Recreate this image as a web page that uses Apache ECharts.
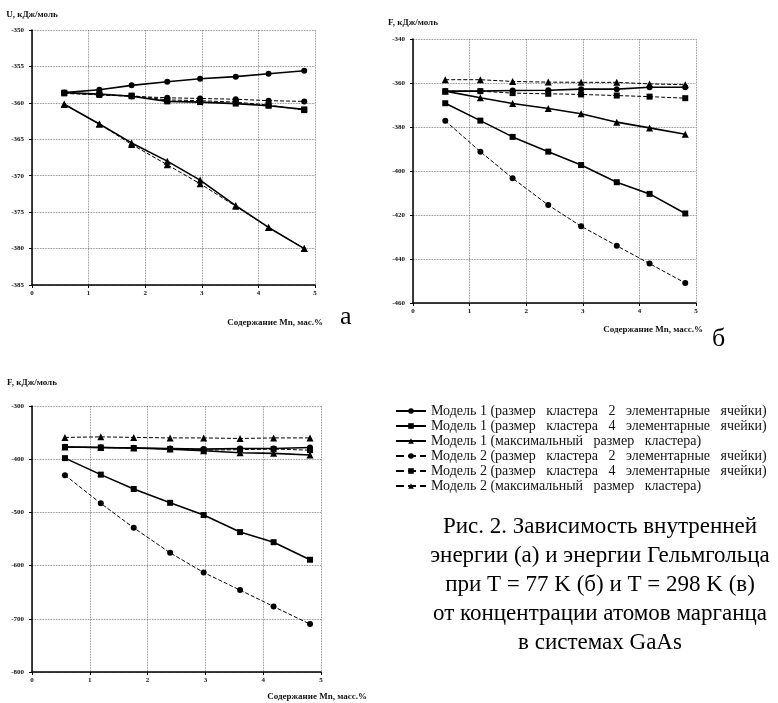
<!DOCTYPE html>
<html>
<head>
<meta charset="utf-8">
<script src="https://cdn.jsdelivr.net/npm/echarts@6/dist/echarts.min.js"></script>
<style>
html, body { margin: 0; padding: 0; background: #fff; }
#chart { width: 778px; height: 703px; }
</style>
</head>
<body>
<div id="chart"></div>
<script>
// содержание Mn, масс.%
const mn = [0.57, 1.19, 1.76, 2.39, 2.97, 3.6, 4.18, 4.81];

const seriesNames = [
    'Модель 1 (размер   кластера   2   элементарные   ячейки)',
    'Модель 1 (размер   кластера   4   элементарные   ячейки)',
    'Модель 1 (максимальный   размер   кластера)',
    'Модель 2 (размер   кластера   2   элементарные   ячейки)',
    'Модель 2 (размер   кластера   4   элементарные   ячейки)',
    'Модель 2 (максимальный   размер   кластера)'
];

// (а) U, кДж/моль
const aM1c2 = [-358.6, -358.2, -357.6, -357.1, -356.7, -356.4, -356.0, -355.6];
const aM1c4 = [-358.6, -358.8, -359.1, -359.8, -359.9, -360.1, -360.4, -360.9];
const aM1max = [-360.2, -362.9, -365.5, -368.0, -370.6, -374.1, -377.1, -380.0];
const aM2c2 = [-358.6, -358.9, -359.1, -359.3, -359.4, -359.5, -359.7, -359.8];
const aM2c4 = [-358.7, -358.9, -359.0, -359.6, -359.7, -359.9, -360.3, -361.0];
const aM2max = [-360.2, -362.9, -365.7, -368.5, -371.1, -374.2, -377.1, -380.0];

// (б) F при 77 K, кДж/моль
const bM1c2 = [-363.7, -363.7, -363.4, -363.3, -362.8, -362.8, -361.9, -361.9];
const bM1c4 = [-369.2, -377.1, -384.5, -391.2, -397.3, -405.1, -410.4, -419.3];
const bM1max = [-363.7, -366.7, -369.3, -371.6, -374.0, -377.8, -380.4, -383.3];
const bM2c2 = [-377.2, -391.2, -403.3, -415.5, -425.1, -434.0, -442.1, -450.9];
const bM2c4 = [-363.7, -363.7, -364.6, -364.9, -365.2, -365.7, -366.2, -366.9];
const bM2max = [-358.5, -358.5, -359.3, -359.6, -359.7, -359.7, -360.4, -360.8];

// (в) F при 298 K, кДж/моль
const vM1c2 = [-377, -378, -379, -380, -381, -380, -380, -378];
const vM1c4 = [-398, -429, -456, -482, -505, -537, -556, -589];
const vM1max = [-377, -378, -379, -381, -384, -388, -389, -392];
const vM2c2 = [-430, -483, -529, -576, -613, -646, -677, -710];
const vM2c4 = [-377, -378, -379, -381, -383, -382, -381, -383];
const vM2max = [-359, -358, -359, -360, -360, -361, -360, -360];

const panels = [
    [aM1c2, aM1c4, aM1max, aM2c2, aM2c4, aM2max],
    [bM1c2, bM1c4, bM1max, bM2c2, bM2c4, bM2max],
    [vM1c2, vM1c4, vM1max, vM2c2, vM2c4, vM2max]
];

const symbols = ['circle', 'rect', 'triangle', 'circle', 'rect', 'triangle'];
const symbolSizes = [6, 6, 7, 6, 6, 7];
const lineTypes = ['solid', 'solid', 'solid', 'dashed', 'dashed', 'dashed'];
const lineWidths = [1.6, 1.6, 1.6, 1, 1, 1];

const axisFont = {
    fontFamily: 'Liberation Serif',
    fontWeight: 'bold',
    fontSize: 7,
    color: '#111'
};

function makeX(gridIndex, name, nameGap, namePad) {
    return {
        type: 'value',
        gridIndex: gridIndex,
        min: 0,
        max: 5,
        interval: 1,
        name: name,
        nameLocation: 'end',
        nameGap: nameGap,
        nameTextStyle: {
            fontFamily: 'Liberation Serif',
            fontWeight: 'bold',
            fontSize: 9,
            color: '#111',
            align: 'right',
            verticalAlign: 'top',
            padding: [namePad, 0, 0, 0]
        },
        axisLine: { lineStyle: { color: '#000', width: 1.5 } },
        axisTick: { show: true, length: 3, lineStyle: { color: '#000' } },
        axisLabel: Object.assign({ margin: 5 }, axisFont),
        splitLine: { show: true, lineStyle: { color: '#666', type: 'dotted', width: 0.8 } }
    };
}

function makeY(gridIndex, min, max, step, name, nameGap) {
    return {
        type: 'value',
        gridIndex: gridIndex,
        min: min,
        max: max,
        interval: step,
        name: name,
        nameLocation: 'end',
        nameGap: nameGap,
        nameTextStyle: {
            fontFamily: 'Liberation Serif',
            fontWeight: 'bold',
            fontSize: 9,
            color: '#111'
        },
        axisLine: { show: true, lineStyle: { color: '#000', width: 1.5 } },
        axisTick: { show: true, length: 3, lineStyle: { color: '#000' } },
        axisLabel: Object.assign({ margin: 8 }, axisFont),
        splitLine: { show: true, lineStyle: { color: '#666', type: 'dotted', width: 0.8 } }
    };
}

let series = [];
panels.forEach(function (panel, p) {
    panel.forEach(function (vals, i) {
        series.push({
            name: seriesNames[i],
            type: 'line',
            xAxisIndex: p,
            yAxisIndex: p,
            data: mn.map(function (x, k) { return [x, vals[k]]; }),
            symbol: symbols[i],
            symbolSize: symbolSizes[i],
            showAllSymbol: true,
            itemStyle: { color: '#000' },
            lineStyle: { color: '#000', width: lineWidths[i], type: lineTypes[i] },
            animation: false
        });
    });
});

let chart = echarts.init(document.getElementById('chart'));
let option = {
    backgroundColor: '#fff',
    animation: false,
    grid: [
        { left: 32, top: 30, width: 283, height: 255 },
        { left: 413, top: 39, width: 283, height: 264 },
        { left: 32, top: 406, width: 289, height: 266 }
    ],
    xAxis: [
        makeX(0, 'Содержание Mn, мас.%', 8, 33),
        makeX(1, 'Содержание Mn, масс.%', 7, 22),
        makeX(2, 'Содержание Mn, масс.%', 46, 20)
    ],
    yAxis: [
        makeY(0, -385, -350, 5, 'U, кДж/моль', 11),
        makeY(1, -460, -340, 20, 'F, кДж/моль', 12),
        makeY(2, -800, -300, 100, 'F, кДж/моль', 19)
    ],
    legend: {
        orient: 'vertical',
        left: 390,
        top: 399,
        itemWidth: 30,
        itemHeight: 7,
        itemGap: 1,
        data: seriesNames,
        textStyle: {
            fontFamily: 'Liberation Serif',
            fontSize: 14,
            color: '#111'
        }
    },
    graphic: [
        {
            type: 'text', left: 340, top: 304,
            style: { text: 'а', font: '26px "Liberation Serif"', fill: '#000' }
        },
        {
            type: 'text', left: 712, top: 326,
            style: { text: 'б', font: '26px "Liberation Serif"', fill: '#000' }
        },
        {
            type: 'text', x: 600, y: 512,
            style: {
                text: 'Рис. 2. Зависимость внутренней\nэнергии (а) и энергии Гельмгольца\nпри T = 77 K (б) и T = 298 K (в)\nот концентрации атомов марганца\nв системах GaAs',
                font: '23px "Liberation Serif"',
                fill: '#000',
                align: 'center',
                lineHeight: 29
            }
        }
    ],
    series: series
};
chart.setOption(option);
</script>
</body>
</html>
